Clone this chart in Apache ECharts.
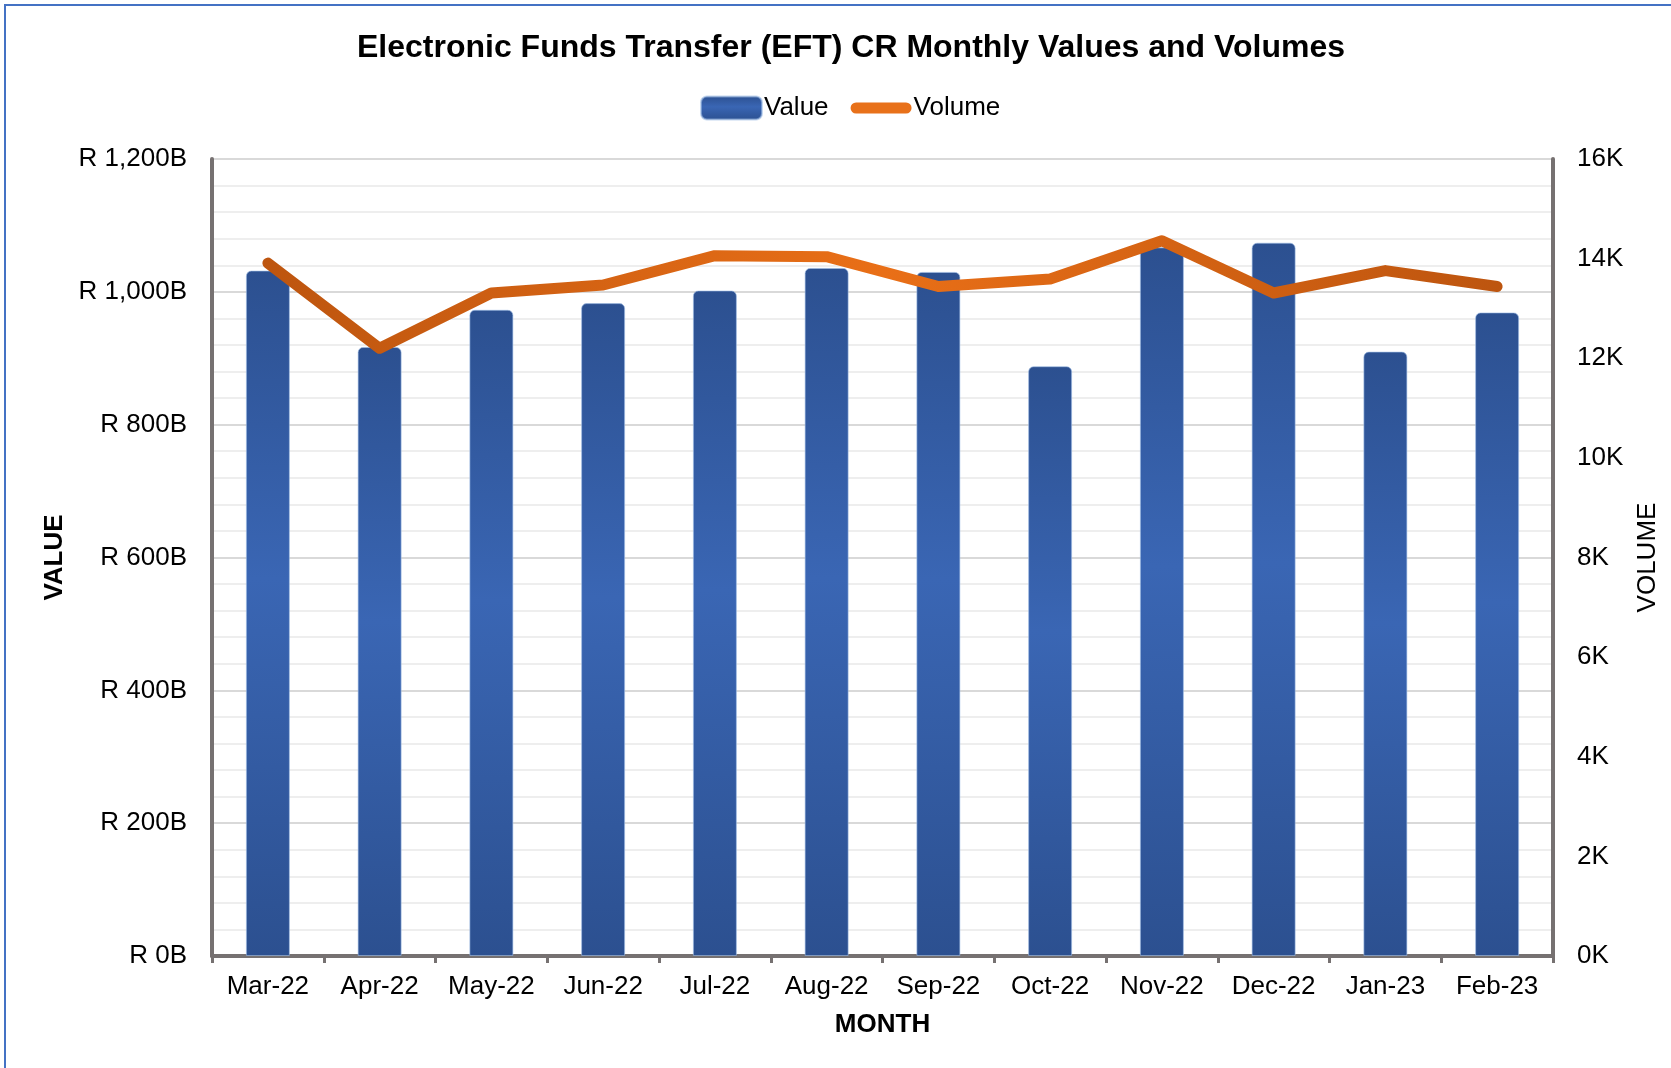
<!DOCTYPE html>
<html>
<head>
<meta charset="utf-8">
<title>EFT CR Monthly Values and Volumes</title>
<script src="https://cdn.jsdelivr.net/npm/echarts@6/dist/echarts.min.js"></script>
<style>
	html, body { margin: 0; padding: 0; background: #fff; }
	#frame {
		position: absolute; left: 4px; top: 4px; right: -10px; bottom: -10px;
		border-left: 2px solid #4472C4; border-top: 2px solid #4472C4;
	}
	#chart { position: absolute; left: 0; top: 0; width: 1671px; height: 1068px; }
</style>
</head>
<body>
<div id="frame"></div>
<div id="chart"></div>
<script>
'use strict';
var months = ['Mar-22', 'Apr-22', 'May-22', 'Jun-22', 'Jul-22', 'Aug-22',
		'Sep-22', 'Oct-22', 'Nov-22', 'Dec-22', 'Jan-23', 'Feb-23'];
// value in R billions
var values = [1032, 917, 973, 983, 1002, 1036, 1030, 888, 1067, 1074, 910, 969];
// volume (count)
var volumes = [13910, 12200, 13310, 13470, 14060, 14040, 13440, 13590, 14360, 13310, 13760, 13440];

var font = 'Liberation Sans, Arial, sans-serif',
		axisGray = '#767171';

var chart = echarts.init(document.getElementById('chart'));

var barColor = new echarts.graphic.LinearGradient(0, 0, 0, 1, [
	{offset: 0, color: '#2C5090'},
	{offset: 0.45, color: '#3A66B4'},
	{offset: 1, color: '#2C5090'}
]);

var lineColor = new echarts.graphic.LinearGradient(0, 0, 1, 0, [
	{offset: 0, color: '#BD550F'},
	{offset: 0.5, color: '#E96F17'},
	{offset: 1, color: '#BD550F'}
]);

// thick rounded line for the legend, keeps its aspect inside the item box
var lineIcon = 'path://M5.5,0 L55.5,0 A5.5,5.5 0 0 1 55.5,11 L5.5,11 A5.5,5.5 0 0 1 5.5,0 Z';

chart.setOption({
	animation: false,
	textStyle: {fontFamily: font},
	title: {
		text: 'Electronic Funds Transfer (EFT) CR Monthly Values and Volumes',
		left: 352,
		top: 27,
		textStyle: {fontSize: 32, fontWeight: 'bold', color: '#000', fontFamily: font}
	},
	legend: {
		top: 90,
		left: 695,
		itemWidth: 61,
		itemHeight: 23,
		itemGap: 22,
		textStyle: {fontSize: 26, color: '#000', padding: [0, 0, 0, -3]},
		data: [
			{name: 'Value', icon: 'roundRect'},
			{name: 'Volume', icon: lineIcon, itemStyle: {color: '#E8711A'}}
		]
	},
	grid: {left: 212, right: 118, top: 159, bottom: 112},
	xAxis: {
		type: 'category',
		data: months,
		name: 'MONTH',
		nameLocation: 'middle',
		nameGap: 56,
		nameTextStyle: {fontSize: 26, fontWeight: 'bold', color: '#000'},
		axisLine: {lineStyle: {color: axisGray, width: 4}},
		axisTick: {show: true, length: 7, lineStyle: {color: axisGray, width: 3}},
		axisLabel: {fontSize: 26, color: '#000', margin: 18, interval: 0}
	},
	yAxis: [
		{
			type: 'value',
			min: 0,
			max: 1200,
			interval: 200,
			name: 'VALUE',
			nameLocation: 'middle',
			nameGap: 144,
			nameTextStyle: {fontSize: 26, fontWeight: 'bold', color: '#000'},
			axisLine: {show: true, lineStyle: {color: axisGray, width: 4}},
			axisTick: {show: false},
			axisLabel: {
				fontSize: 26, color: '#000', margin: 25,
				formatter: function (v) {
					return 'R ' + v.toLocaleString('en-US') + 'B';
				}
			},
			splitLine: {lineStyle: {color: '#D9D9D9', width: 2}},
			minorTick: {show: false, splitNumber: 5},
			minorSplitLine: {show: true, lineStyle: {color: '#EEEEEE', width: 2}}
		},
		{
			type: 'value',
			min: 0,
			max: 16000,
			interval: 2000,
			name: 'VOLUME',
			nameLocation: 'middle',
			nameRotate: 90,
			nameGap: 82,
			nameTextStyle: {fontSize: 26, color: '#000'},
			axisLine: {show: true, lineStyle: {color: axisGray, width: 4}},
			axisTick: {show: false},
			axisLabel: {
				fontSize: 26, color: '#000', margin: 24,
				formatter: function (v) {
					return (v / 1000) + 'K';
				}
			},
			splitLine: {show: false}
		}
	],
	series: [
		{
			name: 'Value',
			type: 'bar',
			data: values,
			barWidth: 44,
			itemStyle: {
				color: barColor,
				borderRadius: [5, 5, 0, 0],
				borderColor: 'rgba(160,190,230,0.6)',
				borderWidth: 1
			}
		},
		{
			name: 'Volume',
			type: 'line',
			yAxisIndex: 1,
			data: volumes,
			symbol: 'none',
			smooth: false,
			lineStyle: {color: lineColor, width: 11, cap: 'round', join: 'round'},
			itemStyle: {color: '#E26B15'}
		}
	]
});
</script>
</body>
</html>
